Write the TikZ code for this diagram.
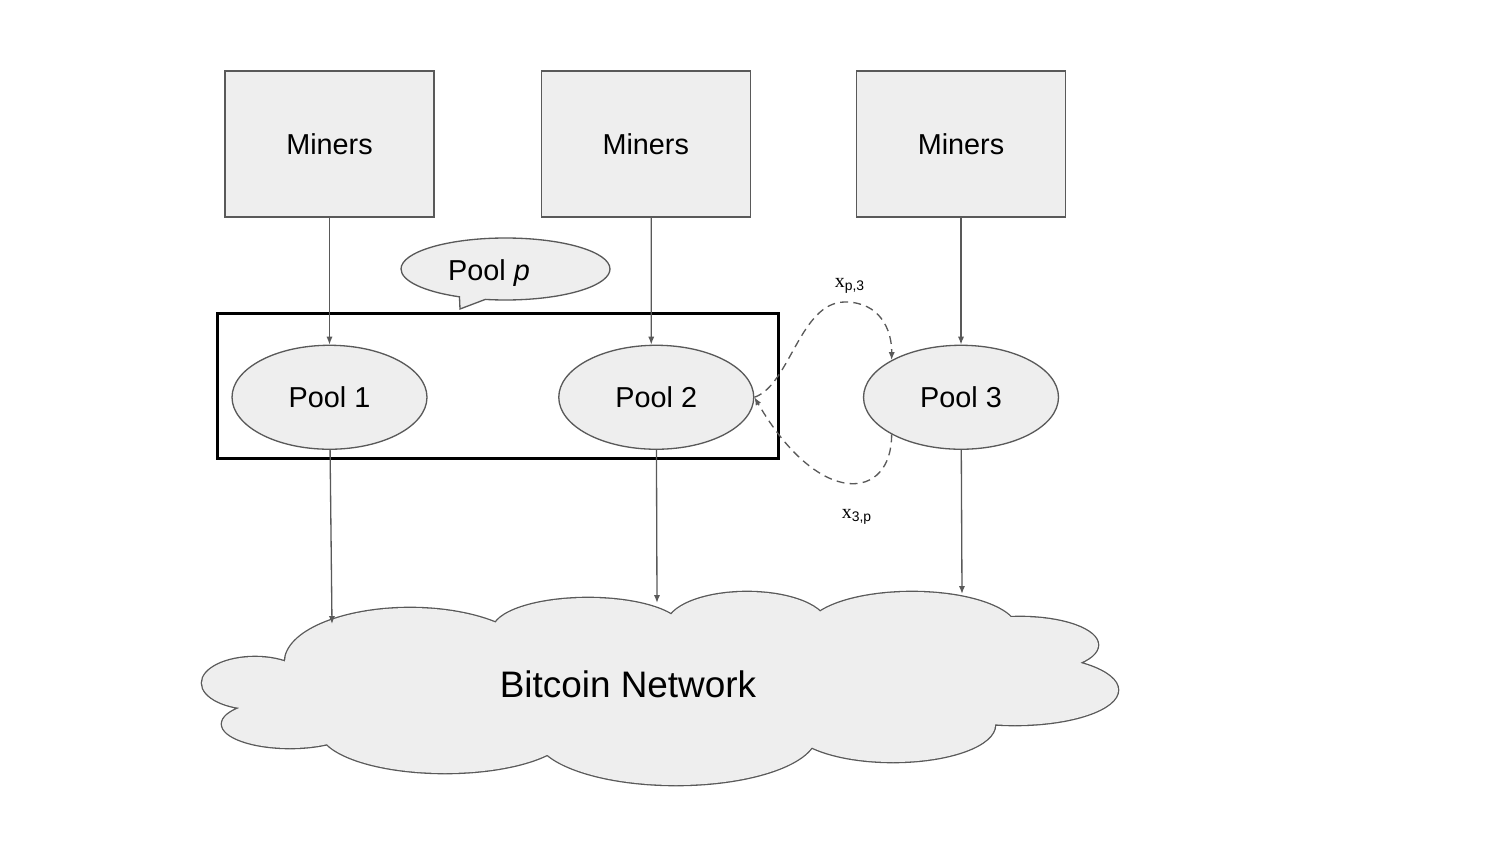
\documentclass[tikz,border=0pt]{standalone}
\usepackage{fontspec}
\setmainfont{Liberation Sans}
\newfontfamily\serifx{Liberation Serif}
\usetikzlibrary{shapes.geometric, shapes.callouts, arrows.meta, positioning}
\definecolor{boxgray}{HTML}{EEEEEE}
\definecolor{edgegray}{HTML}{595959}
\tikzset{
  minerbox/.style={rectangle, draw=edgegray, fill=boxgray, line width=0.75pt,
                   minimum width=4.18cm, minimum height=2.92cm, inner sep=0pt,
                   font=\fontsize{16.4}{19}\selectfont},
  poolnode/.style={ellipse, draw=edgegray, fill=boxgray, line width=0.75pt,
                   minimum width=3.9cm, minimum height=2.08cm, inner sep=0pt,
                   font=\fontsize{16.4}{19}\selectfont},
  poolframe/.style={rectangle, draw=black, line width=1.7pt,
                    minimum width=11.24cm, minimum height=2.92cm},
  bubble/.style={ellipse callout, draw=edgegray, fill=boxgray, line width=0.75pt,
                 minimum width=4.18cm, minimum height=1.24cm, inner sep=0pt,
                 font=\fontsize{16.4}{19}\selectfont},
  netlabel/.style={font=\fontsize{21}{25}\selectfont},
  arrow/.style={-{Latex[length=4.5pt, width=3.5pt]}, draw=edgegray, line width=0.75pt},
  flowarrow/.style={arrow, dash pattern=on 4.5pt off 3pt},
  flowlabel/.style={font=\fontsize{11.3}{13}\selectfont, inner sep=0pt},
}
% puffs of the network cloud: centre x, centre y, radius x, radius y
\newcommand{\cloudpuffs}{%
  (255,683) ellipse [x radius=53, y radius=26]
  (290,724) ellipse [x radius=68, y radius=24]
  (410,662) ellipse [x radius=125, y radius=54]
  (445,730) ellipse [x radius=125, y radius=43]
  (588,630) ellipse [x radius=95, y radius=32]
  (676,735) ellipse [x radius=140, y radius=50]
  (747,625) ellipse [x radius=80, y radius=33]
  (912,630) ellipse [x radius=105, y radius=38]
  (1020,645) ellipse [x radius=78, y radius=28]
  (1015,690) ellipse [x radius=103, y radius=35]
  (893,725) ellipse [x radius=102, y radius=37]}
\begin{document}
\begin{tikzpicture}[x=0.02cm, y=-0.02cm]
  \useasboundingbox (0,0) rectangle (1500,844);

  % miners
  \node[minerbox] (min1) at (329.5,144) {Miners};
  \node[minerbox, right=2.12cm of min1] (min2) {Miners};
  \node[minerbox, right=2.10cm of min2] (min3) {Miners};

  % pools
  \node[poolnode, below=2.54cm of min1] (pool1) {Pool 1};
  \node[poolnode, below=2.54cm of min2, xshift=0.21cm] (pool2) {Pool 2};
  \node[poolnode, below=2.54cm of min3] (pool3) {Pool 3};

  \node[poolframe] (poolp) at (498,386) {};
  \node[bubble, callout absolute pointer={(460,309)}] (pbubble) at (505.5,269)
    {\raisebox{-0.08cm}[\height][\depth]{Pool \textit{p}}\kern0.66cm};

  % network cloud: outline of the union of the puffs
  \draw[edgegray, line width=1.5pt] \cloudpuffs;
  \fill[boxgray] \cloudpuffs
    (660,690) ellipse [x radius=330, y radius=65]
    (400,700) ellipse [x radius=150, y radius=40];
  \node[netlabel] (net) at (628,684) {Bitcoin Network};
  \coordinate (in1) at (332,624);
  \coordinate (in2) at (657,603);
  \coordinate (in3) at (962,594);

  \draw[arrow] (min1) -- (pool1);
  \draw[arrow] ([xshift=0.11cm]min2.south) -- ([xshift=-0.1cm]pool2.north);
  \draw[arrow] (min3) -- (pool3);

  \draw[arrow] (pool1) -- (in1);
  \draw[arrow] (pool2) -- (in2);
  \draw[arrow] (pool3) -- (in3);

  % flows between pool p and pool 3
  \draw[flowarrow] (pool2.east) .. controls (790,385) and (800,302) .. (845,302)
    .. controls (880,302) and (892,330) .. (pool3.north west);
  \draw[flowarrow] (pool3.south west) .. controls (892,500) and (820,510) .. (pool2.east);
  \node[flowlabel] (xp3) at (850,286) {{\serifx x}\textsubscript{p,3}};
  \node[flowlabel] (x3p) at (857,517) {{\serifx x}\textsubscript{3,p}};
\end{tikzpicture}
\end{document}
